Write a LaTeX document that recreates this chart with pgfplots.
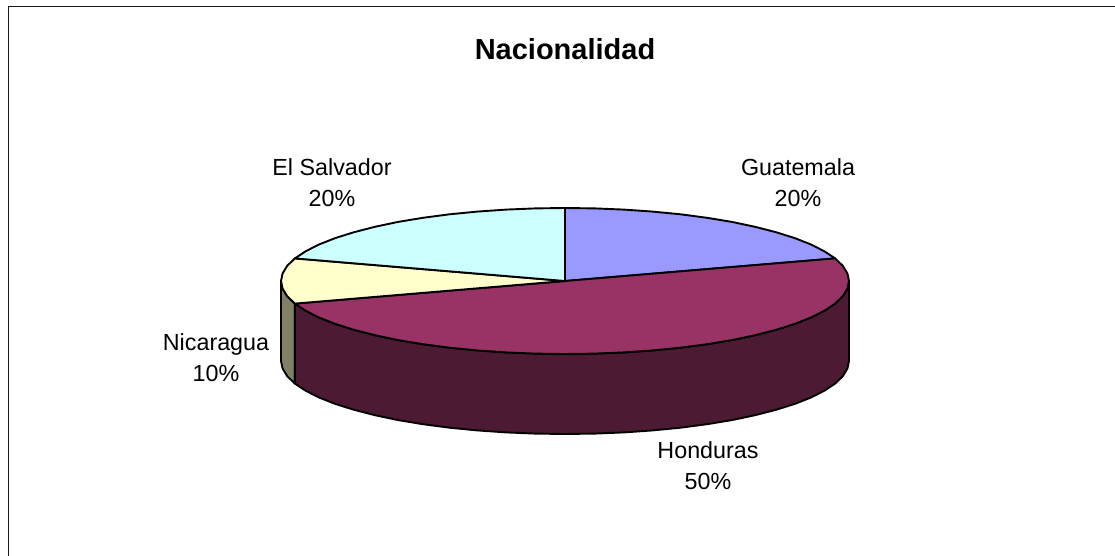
\documentclass[border=0pt]{standalone}
\usepackage{pgfplots}
\pgfplotsset{compat=1.18}
\usepackage{fontspec}
\setmainfont{Liberation Sans}
\definecolor{gua}{HTML}{9999FF}
\definecolor{hon}{HTML}{993366}
\definecolor{honw}{HTML}{4D1A33}
\definecolor{nic}{HTML}{FFFFCC}
\definecolor{nicw}{HTML}{808066}
\definecolor{sal}{HTML}{CCFFFF}
\begin{document}
\begin{tikzpicture}
\begin{axis}[
  width=1115bp, height=556bp, scale only axis,
  xmin=0, xmax=1115, ymin=0, ymax=556, y dir=reverse,
  axis lines=none, clip=false,
  every axis plot/.append style={line width=1.9bp, line join=round},
]
\path[use as bounding box] (axis cs:0,0) rectangle (axis cs:1115,556);
% chart frame: the reference shows only its top and left sides
\addplot[black!90, line width=1.8bp, no marks] coordinates {(8.5,556) (8.5,6.5) (1115,6.5)};
% walls: Nicaragua
\addplot[draw=black, fill=nicw] coordinates {
(281,281) (282.6,288.6) (287.2,296.2) (294.9,303.6)
(294.9,383.6) (287.2,376.2) (282.6,368.6) (281,361)} -- cycle;
% walls: Honduras
\addplot[draw=black, fill=honw] coordinates {
(294.9,303.6) (305.6,310.7) (319,317.5) (335.2,323.9) (354,329.8) (375,335.2) (398.1,340.1) (423,344.2) (449.5,347.7) (477.2,350.4) (506,352.4) (535.3,353.6) (565,354) (594.7,353.6) (624,352.4) (652.8,350.4) (680.5,347.7) (707,344.2) (731.9,340.1) (755,335.2) (776,329.8) (794.8,323.9) (811,317.5) (824.4,310.7) (835.1,303.6) (842.8,296.2) (847.4,288.6) (849,281)
(849,361) (847.4,368.6) (842.8,376.2) (835.1,383.6) (824.4,390.7) (811,397.5) (794.8,403.9) (776,409.8) (755,415.2) (731.9,420.1) (707,424.2) (680.5,427.7) (652.8,430.4) (624,432.4) (594.7,433.6) (565,434) (535.3,433.6) (506,432.4) (477.2,430.4) (449.5,427.7) (423,424.2) (398.1,420.1) (375,415.2) (354,409.8) (335.2,403.9) (319,397.5) (305.6,390.7) (294.9,383.6)} -- cycle;
% top: Guatemala
\addplot[draw=black, fill=gua] coordinates {
(565,281) (565,208) (594.7,208.4) (624,209.6) (652.8,211.6) (680.5,214.3) (707,217.8) (731.9,221.9) (755,226.8) (776,232.2) (794.8,238.1) (811,244.5) (824.4,251.3) (835.1,258.4)} -- cycle;
% top: Honduras
\addplot[draw=black, fill=hon] coordinates {
(565,281) (835.1,258.4) (842.8,265.8) (847.4,273.4) (849,281) (847.4,288.6) (842.8,296.2) (835.1,303.6) (824.4,310.7) (811,317.5) (794.8,323.9) (776,329.8) (755,335.2) (731.9,340.1) (707,344.2) (680.5,347.7) (652.8,350.4) (624,352.4) (594.7,353.6) (565,354) (535.3,353.6) (506,352.4) (477.2,350.4) (449.5,347.7) (423,344.2) (398.1,340.1) (375,335.2) (354,329.8) (335.2,323.9) (319,317.5) (305.6,310.7) (294.9,303.6)} -- cycle;
% top: Nicaragua
\addplot[draw=black, fill=nic] coordinates {
(565,281) (294.9,303.6) (287.2,296.2) (282.6,288.6) (281,281) (282.6,273.4) (287.2,265.8) (294.9,258.4)} -- cycle;
% top: El Salvador
\addplot[draw=black, fill=sal] coordinates {
(565,281) (294.9,258.4) (305.6,251.3) (319,244.5) (335.2,238.1) (354,232.2) (375,226.8) (398.1,221.9) (423,217.8) (449.5,214.3) (477.2,211.6) (506,209.6) (535.3,208.4) (565,208)} -- cycle;
% labels
\node[font=\fontsize{29bp}{32bp}\selectfont\bfseries, inner sep=0pt] at (axis cs:565,49) {Nacionalidad};
\node[font=\fontsize{23.3bp}{31bp}\selectfont, align=center, inner sep=0pt] at (axis cs:798,182.5) {Guatemala\\20\%};
\node[font=\fontsize{23.3bp}{31bp}\selectfont, align=center, inner sep=0pt] at (axis cs:332,182.5) {El Salvador\\20\%};
\node[font=\fontsize{23.3bp}{31bp}\selectfont, align=center, inner sep=0pt] at (axis cs:216,358) {Nicaragua\\10\%};
\node[font=\fontsize{23.3bp}{31bp}\selectfont, align=center, inner sep=0pt] at (axis cs:708,466) {Honduras\\50\%};
\end{axis}
\end{tikzpicture}
\end{document}
